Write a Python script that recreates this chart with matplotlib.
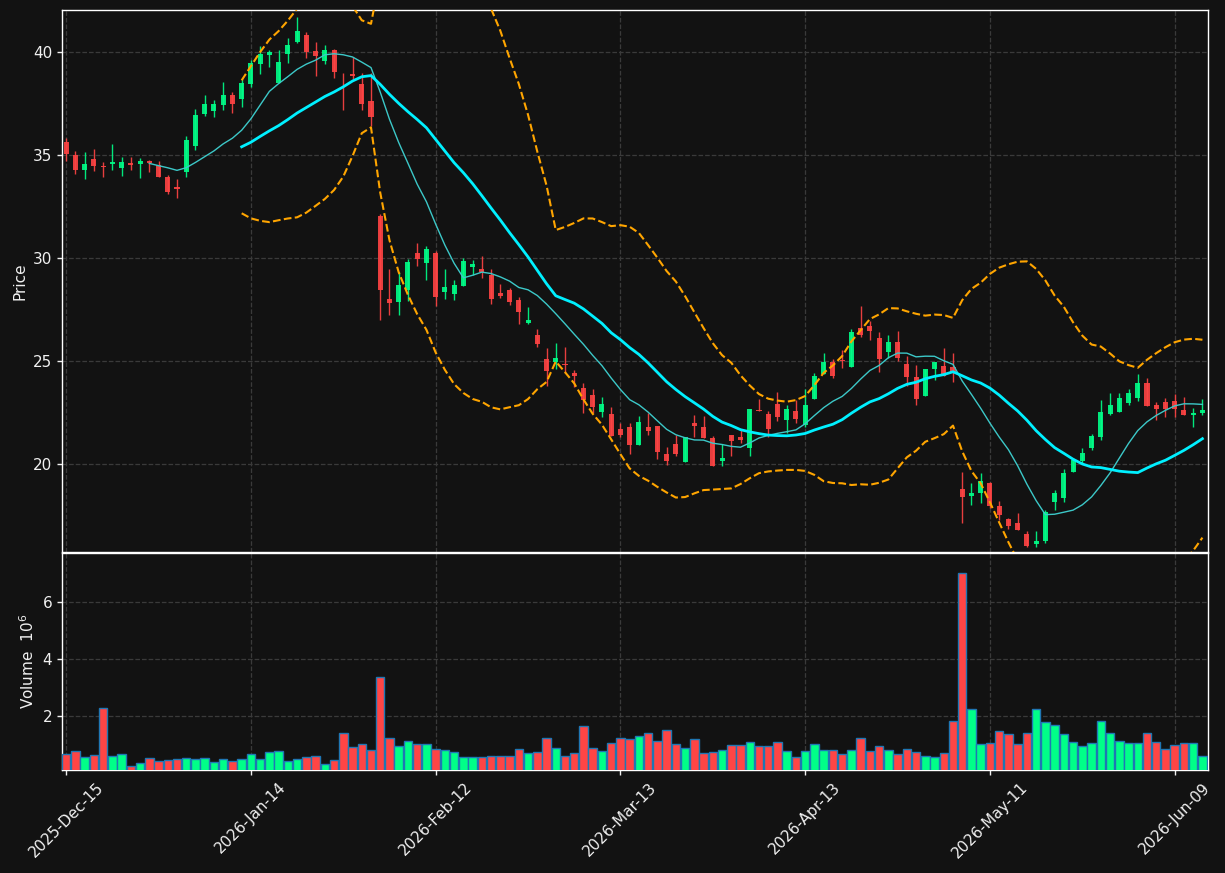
import matplotlib
matplotlib.use("Agg")
import matplotlib.pyplot as plt
import numpy as np
import pandas as pd

# OHLC + volume (millions), one row per trading day
opens = [35.64, 35.02, 34.26, 34.82, 34.45, 34.58, 34.35, 34.60, 34.58, 34.72,
         34.52, 33.94, 33.47, 34.20, 35.42, 37.01, 37.14, 37.41, 37.91, 37.70,
         38.47, 39.44, 39.87, 38.50, 39.92, 40.49, 40.82, 40.05, 39.58, 40.10,
         38.99, 38.94, 38.45, 37.63, 32.06, 28.01, 27.87, 28.43, 30.23, 29.76,
         30.23, 28.36, 28.26, 28.65, 29.57, 29.45, 29.17, 28.29, 28.43, 27.94,
         26.85, 26.26, 25.10, 24.93, 24.86, 24.42, 23.68, 23.35, 22.51, 22.44,
         21.72, 21.80, 20.94, 21.80, 21.85, 20.50, 20.98, 20.08, 21.97, 21.80,
         21.26, 20.15, 21.40, 21.31, 20.76, 22.61, 22.44, 22.91, 22.14, 22.59,
         21.88, 23.18, 24.39, 24.95, 25.05, 24.69, 26.59, 26.71, 26.12, 25.45,
         25.92, 24.88, 24.24, 23.28, 24.63, 24.78, 24.71, 18.81, 18.47, 18.60,
         19.06, 17.96, 17.34, 17.14, 16.62, 16.11, 16.25, 18.18, 18.35, 19.61,
         20.15, 20.76, 21.33, 22.44, 22.52, 22.98, 23.20, 23.94, 22.89, 23.01,
         23.06, 22.64, 22.36, 22.47]
highs = [35.85, 35.19, 35.14, 35.29, 34.67, 35.54, 34.89, 34.89, 34.87, 34.75,
         34.70, 34.05, 33.84, 35.93, 37.22, 37.91, 37.68, 38.54, 38.05, 38.70,
         39.63, 40.27, 40.08, 40.10, 40.67, 41.68, 40.98, 40.50, 40.34, 40.17,
         38.99, 39.75, 38.99, 38.96, 32.14, 29.49, 29.34, 29.96, 30.75, 30.58,
         30.33, 29.49, 28.95, 30.01, 29.91, 30.09, 29.45, 28.75, 28.53, 28.11,
         27.60, 26.54, 25.62, 25.89, 25.67, 24.56, 23.94, 23.65, 23.26, 22.76,
         22.00, 21.97, 22.34, 22.47, 21.85, 20.82, 21.43, 21.30, 22.36, 22.34,
         21.38, 20.96, 21.40, 21.67, 22.67, 23.15, 22.56, 23.48, 22.89, 23.11,
         23.65, 24.41, 25.37, 25.08, 25.53, 26.54, 27.69, 26.93, 26.43, 26.26,
         26.48, 25.25, 24.79, 24.61, 24.95, 25.62, 25.37, 19.61, 19.06, 19.56,
         19.14, 18.22, 17.38, 17.64, 16.75, 16.75, 17.76, 18.72, 19.75, 20.29,
         20.76, 21.46, 23.10, 23.43, 23.43, 23.65, 24.36, 24.19, 23.01, 23.20,
         23.40, 23.26, 22.73, 23.15]
lows = [34.72, 34.08, 33.84, 34.21, 33.94, 34.28, 33.98, 34.28, 33.89, 34.16,
        33.94, 33.10, 32.90, 33.93, 35.24, 36.92, 36.84, 37.19, 37.02, 37.33,
        38.28, 38.92, 39.26, 38.50, 39.46, 40.42, 39.71, 38.82, 39.41, 38.72,
        37.17, 38.67, 37.17, 36.43, 27.01, 27.25, 27.25, 27.91, 29.59, 28.95,
        27.69, 27.99, 27.94, 28.65, 29.20, 29.03, 27.77, 28.07, 27.72, 26.78,
        26.78, 25.67, 23.77, 24.61, 24.44, 23.73, 22.47, 22.47, 22.27, 21.38,
        21.30, 20.49, 20.94, 21.43, 20.25, 19.95, 20.39, 20.08, 21.30, 21.28,
        19.90, 19.90, 20.39, 21.04, 20.37, 22.56, 21.33, 22.09, 21.50, 22.00,
        21.80, 23.18, 24.39, 24.19, 24.66, 24.69, 26.17, 26.04, 24.49, 25.16,
        25.00, 23.77, 22.89, 23.28, 24.10, 24.27, 23.99, 17.14, 18.02, 18.10,
        17.88, 17.26, 16.84, 16.79, 15.95, 15.95, 16.16, 17.76, 18.18, 19.61,
        20.03, 20.66, 21.16, 22.39, 22.52, 22.86, 23.06, 22.84, 22.14, 22.27,
        22.27, 22.36, 21.80, 22.39]
closes = [35.04, 34.26, 34.58, 34.45, 34.41, 34.68, 34.68, 34.50, 34.73, 34.63,
          33.94, 33.22, 33.34, 35.74, 36.96, 37.48, 37.48, 37.91, 37.49, 38.50,
          39.46, 39.90, 40.00, 39.51, 40.34, 41.01, 40.02, 39.83, 40.10, 39.01,
          38.96, 38.84, 37.49, 36.87, 28.44, 27.82, 28.71, 29.79, 29.94, 30.46,
          28.11, 28.61, 28.68, 29.84, 29.69, 29.34, 28.02, 28.16, 27.89, 27.38,
          26.98, 25.84, 24.53, 25.15, 24.79, 24.29, 23.11, 22.78, 22.91, 21.38,
          21.40, 20.91, 22.04, 21.58, 20.59, 20.17, 20.47, 21.30, 21.87, 21.28,
          19.90, 20.29, 21.13, 21.18, 22.67, 22.56, 21.72, 22.30, 22.67, 22.17,
          22.89, 24.27, 24.95, 24.29, 25.00, 26.43, 26.26, 26.48, 25.11, 25.92,
          25.16, 24.24, 23.15, 24.61, 24.95, 24.27, 24.49, 18.39, 18.60, 19.19,
          17.96, 17.51, 17.00, 16.79, 16.03, 16.28, 17.68, 18.60, 19.58, 20.20,
          20.54, 21.35, 22.52, 22.89, 23.20, 23.43, 23.94, 22.84, 22.69, 22.69,
          22.69, 22.36, 22.47, 22.64]
volume = [0.655, 0.76, 0.55, 0.62, 2.28, 0.61, 0.655, 0.23, 0.34, 0.51,
          0.41, 0.44, 0.48, 0.51, 0.48, 0.51, 0.37, 0.48, 0.41, 0.48,
          0.655, 0.48, 0.73, 0.76, 0.41, 0.48, 0.55, 0.58, 0.30, 0.44,
          1.40, 0.90, 1.01, 0.80, 3.38, 1.22, 0.94, 1.11, 1.01, 1.01,
          0.83, 0.80, 0.73, 0.55, 0.55, 0.55, 0.58, 0.58, 0.58, 0.83,
          0.69, 0.73, 1.22, 0.87, 0.58, 0.69, 1.65, 0.87, 0.76, 1.04,
          1.22, 1.19, 1.29, 1.40, 1.11, 1.50, 1.01, 0.87, 1.19, 0.69,
          0.73, 0.80, 0.97, 0.97, 1.08, 0.94, 0.94, 1.08, 0.76, 0.55,
          0.76, 1.01, 0.80, 0.80, 0.655, 0.80, 1.22, 0.76, 0.94, 0.80,
          0.655, 0.83, 0.73, 0.58, 0.55, 0.69, 1.82, 7.03, 2.25, 1.01,
          1.04, 1.47, 1.36, 1.01, 1.40, 2.25, 1.79, 1.68, 1.36, 1.08,
          0.94, 1.04, 1.82, 1.40, 1.11, 1.04, 1.04, 1.40, 1.08, 0.83,
          0.97, 1.04, 1.04, 0.58]

tick_pos = [0, 20, 40, 60, 80, 100, 120]
tick_labels = ['2025-Dec-15', '2026-Jan-14', '2026-Feb-12', '2026-Mar-13',
               '2026-Apr-13', '2026-May-11', '2026-Jun-09']

df = pd.DataFrame({'Open': opens, 'High': highs, 'Low': lows,
                   'Close': closes, 'Volume': volume})
x = np.arange(len(df))

# moving averages / bollinger bands, like mav=(10,20) in mplfinance
ma10 = df['Close'].rolling(10).mean()
ma20 = df['Close'].rolling(20).mean()
sd20 = df['Close'].rolling(20).std()
upper = ma20 + 2 * sd20
lower = ma20 - 2 * sd20

bg = '#121212'
up_c = '#00ff88'
dn_c = '#ff4444'
txt = '#f0f0f0'

fig = plt.figure(figsize=(12.25, 8.73), dpi=100, facecolor=bg)
ax = fig.add_axes([0.0506, 0.3677, 0.9355, 0.6208])
axv = fig.add_axes([0.0506, 0.118, 0.9355, 0.2487], sharex=ax)

is_up = df['Close'] >= df['Open']
colors = np.where(is_up, up_c, dn_c)

# candles
ax.vlines(x, df['Low'], df['High'], colors=colors, linewidth=1, alpha=0.9, zorder=3)
body_lo = np.minimum(df['Open'], df['Close'])
body_h = np.maximum(np.abs(df['Close'] - df['Open']), 0.04)
ax.bar(x, body_h, bottom=body_lo, width=0.55, color=colors, alpha=0.9,
       linewidth=0, zorder=4)

ax.plot(x, ma10, color='#3cc8c8', linewidth=1, zorder=5)
ax.plot(x, ma20, color='#00f0ff', linewidth=2, zorder=5)
ax.plot(x, upper, color='#ffa500', linestyle='--', linewidth=1.5, zorder=5)
ax.plot(x, lower, color='#ffa500', linestyle='--', linewidth=1.5, zorder=5)

# volume
vcolors = np.where(is_up, '#00ff88', '#ff4545')
axv.bar(x, df['Volume'], width=0.92, color=vcolors, edgecolor='#1f77b4',
        linewidth=1, zorder=3)

ax.set_ylim(15.73, 42.04)
ax.set_yticks([20, 25, 30, 35, 40])
axv.set_ylim(0.105, 7.72)
axv.set_yticks([2, 4, 6])
ax.set_xlim(-0.45, 123.6)

axv.set_xticks(tick_pos)
axv.set_xticklabels(tick_labels, rotation=45, ha='center')
plt.setp(ax.get_xticklabels(), visible=False)

ax.set_ylabel('Price', color=txt, fontsize=11)
axv.set_ylabel('Volume  $10^{6}$', color=txt, fontsize=11)

for a in (ax, axv):
    a.set_facecolor(bg)
    a.grid(True, color='#3a3a3a', linestyle='--', linewidth=0.9)
    a.set_axisbelow(True)
    a.tick_params(colors=txt, labelsize=11, width=1.0)
    for s in a.spines.values():
        s.set_color('white')
        s.set_linewidth(1.0)

fig.savefig('out.png', dpi=100, facecolor=bg)
